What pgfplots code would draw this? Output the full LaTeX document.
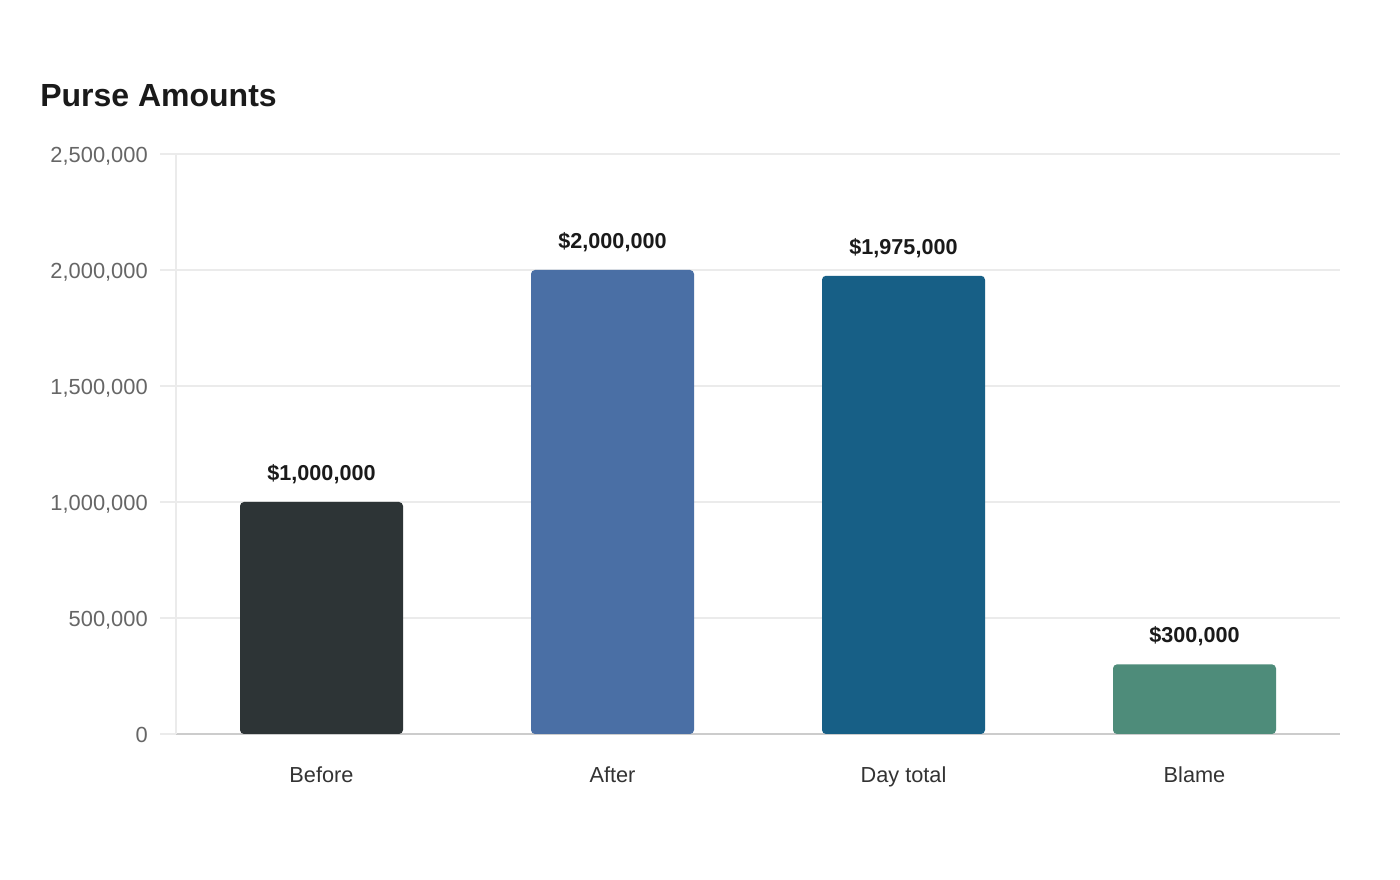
\documentclass[border=0pt]{standalone}
\usepackage{pgfplots}
\pgfplotsset{compat=1.18}
\usepackage{fontspec}
\setmainfont{Liberation Sans}

\definecolor{cBefore}{HTML}{2D3436}
\definecolor{cAfter}{HTML}{4A6FA5}
\definecolor{cDay}{HTML}{175F86}
\definecolor{cBlame}{HTML}{4E8C7A}
\definecolor{gridc}{HTML}{EBEBEB}
\definecolor{axisc}{HTML}{CCCCCC}
\definecolor{ticktext}{HTML}{666666}
\definecolor{cattext}{HTML}{333333}
\definecolor{titletext}{HTML}{1A1A1A}

\begin{document}
\begin{tikzpicture}
\useasboundingbox[fill=white] (0pt,0pt) rectangle (1050pt,660pt);
\node[anchor=base west, font=\bfseries\fontsize{24}{28}\selectfont, text=titletext, inner sep=0pt]
  at (30pt,580pt) {Purse Amounts};
\begin{axis}[
  at={(132pt,109.5pt)}, anchor=south west,
  scale only axis, width=873pt, height=435pt,
  xmin=-0.5, xmax=3.5, ymin=0, ymax=2500000,
  xtick={0,1,2,3}, xticklabels={Before,After,Day total,Blame},
  ytick={0,500000,1000000,1500000,2000000,2500000},
  scaled y ticks=false,
  yticklabel style={anchor=base east, inner sep=0pt, xshift=-9pt, yshift=-6.5pt, text=ticktext,
    font=\fontsize{16.4}{19}\selectfont},
  xticklabel style={anchor=base, inner sep=0pt, yshift=-24.75pt, text=cattext,
    font=\fontsize{16.3}{19}\selectfont},
  axis x line*=bottom, axis y line*=left,
  x axis line style={axisc, line width=0.9pt},
  y axis line style={gridc, line width=0.9pt},
  ymajorgrids, grid style={gridc, line width=0.9pt},
  x tick style={draw=none},
  y tick style={gridc, line width=0.9pt},
  tick align=outside, major tick length=12pt,
  ybar, bar width=122.25pt,
  nodes near coords={\$\pgfmathprintnumber[fixed, precision=0, 1000 sep={,}]{\pgfplotspointmeta}},
  nodes near coords style={font=\bfseries\fontsize{16.2}{19}\selectfont, text=titletext,
    anchor=center, yshift=21pt},
  clip=false,
  /pgf/number format/fixed,
  /pgf/number format/precision=0,
  /pgf/number format/1000 sep={,},
  /pgf/number format/assume math mode=true,
]
\addplot[fill=cBefore, draw=none, bar shift=0pt, rounded corners=3pt] coordinates {(0,1000000)};
\addplot[fill=cAfter, draw=none, bar shift=0pt, rounded corners=3pt] coordinates {(1,2000000)};
\addplot[fill=cDay, draw=none, bar shift=0pt, rounded corners=3pt] coordinates {(2,1975000)};
\addplot[fill=cBlame, draw=none, bar shift=0pt, rounded corners=3pt] coordinates {(3,300000)};
\end{axis}
\end{tikzpicture}
\end{document}
